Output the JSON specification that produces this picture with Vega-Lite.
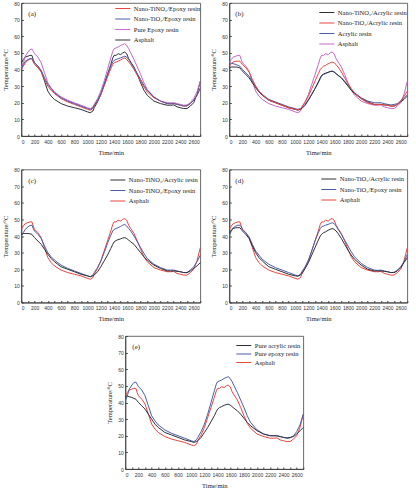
{
"$schema": "https://vega.github.io/schema/vega-lite/v6.json",
"padding": {"left": 2, "top": 0, "right": 0, "bottom": 0},
"spacing": 10.5,
"center": true,
"resolve": {"scale": {"color": "independent"}, "legend": {"color": "independent"}},
"config": {
 "font": "Liberation Serif",
 "view": {"stroke": "#444", "strokeWidth": 0.8},
 "axis": {"labelFont": "Liberation Sans", "labelFontSize": 5, "titleFont": "Liberation Serif", "titleFontSize": 6.5, "titleFontWeight": "normal", "grid": false, "domainColor": "#444", "tickColor": "#444", "tickSize": -2, "labelColor": "#333", "titleColor": "#222", "labelPadding": 5, "labelOverlap": false, "format": "d"},
 "axisX": {"titlePadding": 5},
 "axisY": {"titlePadding": 5, "labelPadding": 4},
 "legend": {"labelFont": "Liberation Serif", "labelFontSize": 6.5, "labelColor": "#222", "symbolType": "M-2,0H2", "symbolSize": 56, "symbolStrokeWidth": 1.5, "labelOffset": 6.5, "padding": 0, "rowPadding": 2.5},
 "title": {"font": "Liberation Serif", "fontSize": 7, "fontWeight": "normal", "anchor": "start", "frame": "group", "offset": -16, "dx": 7, "baseline": "middle", "color": "#222"},
 "line": {"strokeWidth": 1}
},
"datasets": {"temps": [
{"series":"Asphalt","time":0,"temp":44},{"series":"Asphalt","time":30,"temp":46},{"series":"Asphalt","time":60,"temp":47.5},{"series":"Asphalt","time":100,"temp":48},{"series":"Asphalt","time":130,"temp":48.5},{"series":"Asphalt","time":160,"temp":48.5},{"series":"Asphalt","time":180,"temp":46},{"series":"Asphalt","time":200,"temp":44},{"series":"Asphalt","time":250,"temp":42},{"series":"Asphalt","time":300,"temp":39},{"series":"Asphalt","time":350,"temp":33},{"series":"Asphalt","time":400,"temp":27},{"series":"Asphalt","time":450,"temp":24},{"series":"Asphalt","time":500,"temp":22},{"series":"Asphalt","time":600,"temp":19.5},{"series":"Asphalt","time":700,"temp":18},{"series":"Asphalt","time":800,"temp":17},{"series":"Asphalt","time":900,"temp":16},{"series":"Asphalt","time":1000,"temp":14.5},{"series":"Asphalt","time":1040,"temp":14},{"series":"Asphalt","time":1080,"temp":15},{"series":"Asphalt","time":1100,"temp":17},{"series":"Asphalt","time":1150,"temp":20.5},{"series":"Asphalt","time":1200,"temp":25},{"series":"Asphalt","time":1250,"temp":31},{"series":"Asphalt","time":1300,"temp":37},{"series":"Asphalt","time":1350,"temp":43},{"series":"Asphalt","time":1380,"temp":47},{"series":"Asphalt","time":1400,"temp":48.5},{"series":"Asphalt","time":1430,"temp":48.5},{"series":"Asphalt","time":1460,"temp":49.5},{"series":"Asphalt","time":1500,"temp":49},{"series":"Asphalt","time":1530,"temp":50},{"series":"Asphalt","time":1560,"temp":50.5},{"series":"Asphalt","time":1590,"temp":49.5},{"series":"Asphalt","time":1620,"temp":46.5},{"series":"Asphalt","time":1650,"temp":44.5},{"series":"Asphalt","time":1700,"temp":41.5},{"series":"Asphalt","time":1750,"temp":37},{"series":"Asphalt","time":1800,"temp":32},{"series":"Asphalt","time":1850,"temp":27.5},{"series":"Asphalt","time":1900,"temp":24.5},{"series":"Asphalt","time":2000,"temp":21},{"series":"Asphalt","time":2100,"temp":19.5},{"series":"Asphalt","time":2200,"temp":18.5},{"series":"Asphalt","time":2250,"temp":18.5},{"series":"Asphalt","time":2300,"temp":18.7},{"series":"Asphalt","time":2350,"temp":17.5},{"series":"Asphalt","time":2400,"temp":17},{"series":"Asphalt","time":2450,"temp":16.5},{"series":"Asphalt","time":2500,"temp":16.5},{"series":"Asphalt","time":2550,"temp":18},{"series":"Asphalt","time":2600,"temp":20},{"series":"Asphalt","time":2650,"temp":25},{"series":"Asphalt","time":2700,"temp":33},
{"series":"Pure epoxy resin","time":0,"temp":41},{"series":"Pure epoxy resin","time":30,"temp":44},{"series":"Pure epoxy resin","time":60,"temp":48},{"series":"Pure epoxy resin","time":100,"temp":50.5},{"series":"Pure epoxy resin","time":130,"temp":52},{"series":"Pure epoxy resin","time":160,"temp":52.3},{"series":"Pure epoxy resin","time":180,"temp":51},{"series":"Pure epoxy resin","time":200,"temp":49.5},{"series":"Pure epoxy resin","time":250,"temp":47.5},{"series":"Pure epoxy resin","time":300,"temp":44},{"series":"Pure epoxy resin","time":350,"temp":38},{"series":"Pure epoxy resin","time":400,"temp":32},{"series":"Pure epoxy resin","time":450,"temp":29},{"series":"Pure epoxy resin","time":500,"temp":26.5},{"series":"Pure epoxy resin","time":600,"temp":23.5},{"series":"Pure epoxy resin","time":700,"temp":21.5},{"series":"Pure epoxy resin","time":800,"temp":20},{"series":"Pure epoxy resin","time":900,"temp":18.5},{"series":"Pure epoxy resin","time":1000,"temp":17},{"series":"Pure epoxy resin","time":1040,"temp":16.5},{"series":"Pure epoxy resin","time":1080,"temp":17.5},{"series":"Pure epoxy resin","time":1100,"temp":19},{"series":"Pure epoxy resin","time":1150,"temp":22.5},{"series":"Pure epoxy resin","time":1200,"temp":27},{"series":"Pure epoxy resin","time":1250,"temp":33},{"series":"Pure epoxy resin","time":1300,"temp":40},{"series":"Pure epoxy resin","time":1350,"temp":47},{"series":"Pure epoxy resin","time":1380,"temp":51},{"series":"Pure epoxy resin","time":1400,"temp":52.5},{"series":"Pure epoxy resin","time":1430,"temp":53},{"series":"Pure epoxy resin","time":1460,"temp":53.5},{"series":"Pure epoxy resin","time":1500,"temp":54.5},{"series":"Pure epoxy resin","time":1530,"temp":55},{"series":"Pure epoxy resin","time":1560,"temp":55.5},{"series":"Pure epoxy resin","time":1590,"temp":54.5},{"series":"Pure epoxy resin","time":1620,"temp":52.5},{"series":"Pure epoxy resin","time":1650,"temp":50},{"series":"Pure epoxy resin","time":1700,"temp":46},{"series":"Pure epoxy resin","time":1750,"temp":41.5},{"series":"Pure epoxy resin","time":1800,"temp":37},{"series":"Pure epoxy resin","time":1850,"temp":32},{"series":"Pure epoxy resin","time":1900,"temp":28},{"series":"Pure epoxy resin","time":2000,"temp":23.5},{"series":"Pure epoxy resin","time":2100,"temp":21},{"series":"Pure epoxy resin","time":2200,"temp":20},{"series":"Pure epoxy resin","time":2250,"temp":20},{"series":"Pure epoxy resin","time":2300,"temp":20},{"series":"Pure epoxy resin","time":2350,"temp":19.5},{"series":"Pure epoxy resin","time":2400,"temp":19},{"series":"Pure epoxy resin","time":2450,"temp":18.5},{"series":"Pure epoxy resin","time":2500,"temp":18.7},{"series":"Pure epoxy resin","time":2550,"temp":20},{"series":"Pure epoxy resin","time":2600,"temp":22.5},{"series":"Pure epoxy resin","time":2650,"temp":26.5},{"series":"Pure epoxy resin","time":2700,"temp":33},
{"series":"Pure acrylic resin","time":0,"temp":44},{"series":"Pure acrylic resin","time":30,"temp":43.8},{"series":"Pure acrylic resin","time":60,"temp":43.5},{"series":"Pure acrylic resin","time":100,"temp":43},{"series":"Pure acrylic resin","time":130,"temp":42.5},{"series":"Pure acrylic resin","time":160,"temp":42},{"series":"Pure acrylic resin","time":180,"temp":41},{"series":"Pure acrylic resin","time":200,"temp":40},{"series":"Pure acrylic resin","time":250,"temp":38},{"series":"Pure acrylic resin","time":300,"temp":36},{"series":"Pure acrylic resin","time":350,"temp":33},{"series":"Pure acrylic resin","time":400,"temp":30},{"series":"Pure acrylic resin","time":450,"temp":27},{"series":"Pure acrylic resin","time":500,"temp":25},{"series":"Pure acrylic resin","time":600,"temp":22},{"series":"Pure acrylic resin","time":700,"temp":20.5},{"series":"Pure acrylic resin","time":800,"temp":19},{"series":"Pure acrylic resin","time":900,"temp":17.5},{"series":"Pure acrylic resin","time":1000,"temp":16.5},{"series":"Pure acrylic resin","time":1040,"temp":16},{"series":"Pure acrylic resin","time":1080,"temp":16.5},{"series":"Pure acrylic resin","time":1100,"temp":17},{"series":"Pure acrylic resin","time":1150,"temp":19},{"series":"Pure acrylic resin","time":1200,"temp":22},{"series":"Pure acrylic resin","time":1250,"temp":25},{"series":"Pure acrylic resin","time":1300,"temp":28.5},{"series":"Pure acrylic resin","time":1350,"temp":32},{"series":"Pure acrylic resin","time":1380,"temp":34.5},{"series":"Pure acrylic resin","time":1400,"temp":36},{"series":"Pure acrylic resin","time":1430,"temp":37},{"series":"Pure acrylic resin","time":1460,"temp":37.5},{"series":"Pure acrylic resin","time":1500,"temp":38.3},{"series":"Pure acrylic resin","time":1530,"temp":38.7},{"series":"Pure acrylic resin","time":1560,"temp":39},{"series":"Pure acrylic resin","time":1590,"temp":38.5},{"series":"Pure acrylic resin","time":1620,"temp":37.5},{"series":"Pure acrylic resin","time":1650,"temp":36.5},{"series":"Pure acrylic resin","time":1700,"temp":35},{"series":"Pure acrylic resin","time":1750,"temp":33},{"series":"Pure acrylic resin","time":1800,"temp":30.5},{"series":"Pure acrylic resin","time":1850,"temp":28},{"series":"Pure acrylic resin","time":1900,"temp":26},{"series":"Pure acrylic resin","time":2000,"temp":23},{"series":"Pure acrylic resin","time":2100,"temp":21},{"series":"Pure acrylic resin","time":2200,"temp":20},{"series":"Pure acrylic resin","time":2250,"temp":20},{"series":"Pure acrylic resin","time":2300,"temp":20},{"series":"Pure acrylic resin","time":2350,"temp":19.5},{"series":"Pure acrylic resin","time":2400,"temp":19},{"series":"Pure acrylic resin","time":2450,"temp":18.7},{"series":"Pure acrylic resin","time":2500,"temp":19},{"series":"Pure acrylic resin","time":2550,"temp":19.5},{"series":"Pure acrylic resin","time":2600,"temp":21},{"series":"Pure acrylic resin","time":2650,"temp":23},{"series":"Pure acrylic resin","time":2700,"temp":25},
{"series":"Nano-TiNO₂/Epoxy resin","time":0,"temp":40},{"series":"Nano-TiNO₂/Epoxy resin","time":30,"temp":42},{"series":"Nano-TiNO₂/Epoxy resin","time":60,"temp":44},{"series":"Nano-TiNO₂/Epoxy resin","time":100,"temp":45.5},{"series":"Nano-TiNO₂/Epoxy resin","time":130,"temp":46.3},{"series":"Nano-TiNO₂/Epoxy resin","time":160,"temp":46.5},{"series":"Nano-TiNO₂/Epoxy resin","time":180,"temp":44.5},{"series":"Nano-TiNO₂/Epoxy resin","time":200,"temp":43},{"series":"Nano-TiNO₂/Epoxy resin","time":250,"temp":41},{"series":"Nano-TiNO₂/Epoxy resin","time":300,"temp":38.5},{"series":"Nano-TiNO₂/Epoxy resin","time":350,"temp":34},{"series":"Nano-TiNO₂/Epoxy resin","time":400,"temp":30},{"series":"Nano-TiNO₂/Epoxy resin","time":450,"temp":27.5},{"series":"Nano-TiNO₂/Epoxy resin","time":500,"temp":25.5},{"series":"Nano-TiNO₂/Epoxy resin","time":600,"temp":22.5},{"series":"Nano-TiNO₂/Epoxy resin","time":700,"temp":20.5},{"series":"Nano-TiNO₂/Epoxy resin","time":800,"temp":19},{"series":"Nano-TiNO₂/Epoxy resin","time":900,"temp":17.5},{"series":"Nano-TiNO₂/Epoxy resin","time":1000,"temp":16},{"series":"Nano-TiNO₂/Epoxy resin","time":1040,"temp":15.5},{"series":"Nano-TiNO₂/Epoxy resin","time":1080,"temp":16.5},{"series":"Nano-TiNO₂/Epoxy resin","time":1100,"temp":18},{"series":"Nano-TiNO₂/Epoxy resin","time":1150,"temp":21},{"series":"Nano-TiNO₂/Epoxy resin","time":1200,"temp":25},{"series":"Nano-TiNO₂/Epoxy resin","time":1250,"temp":30},{"series":"Nano-TiNO₂/Epoxy resin","time":1300,"temp":35.5},{"series":"Nano-TiNO₂/Epoxy resin","time":1350,"temp":40.5},{"series":"Nano-TiNO₂/Epoxy resin","time":1380,"temp":43},{"series":"Nano-TiNO₂/Epoxy resin","time":1400,"temp":44},{"series":"Nano-TiNO₂/Epoxy resin","time":1430,"temp":44.5},{"series":"Nano-TiNO₂/Epoxy resin","time":1460,"temp":45},{"series":"Nano-TiNO₂/Epoxy resin","time":1500,"temp":45.8},{"series":"Nano-TiNO₂/Epoxy resin","time":1530,"temp":46.5},{"series":"Nano-TiNO₂/Epoxy resin","time":1560,"temp":47},{"series":"Nano-TiNO₂/Epoxy resin","time":1590,"temp":46},{"series":"Nano-TiNO₂/Epoxy resin","time":1620,"temp":44.5},{"series":"Nano-TiNO₂/Epoxy resin","time":1650,"temp":43},{"series":"Nano-TiNO₂/Epoxy resin","time":1700,"temp":40},{"series":"Nano-TiNO₂/Epoxy resin","time":1750,"temp":36.5},{"series":"Nano-TiNO₂/Epoxy resin","time":1800,"temp":33},{"series":"Nano-TiNO₂/Epoxy resin","time":1850,"temp":29.5},{"series":"Nano-TiNO₂/Epoxy resin","time":1900,"temp":26.5},{"series":"Nano-TiNO₂/Epoxy resin","time":2000,"temp":23},{"series":"Nano-TiNO₂/Epoxy resin","time":2100,"temp":21},{"series":"Nano-TiNO₂/Epoxy resin","time":2200,"temp":19.5},{"series":"Nano-TiNO₂/Epoxy resin","time":2250,"temp":19.5},{"series":"Nano-TiNO₂/Epoxy resin","time":2300,"temp":19.5},{"series":"Nano-TiNO₂/Epoxy resin","time":2350,"temp":19},{"series":"Nano-TiNO₂/Epoxy resin","time":2400,"temp":18.5},{"series":"Nano-TiNO₂/Epoxy resin","time":2450,"temp":18},{"series":"Nano-TiNO₂/Epoxy resin","time":2500,"temp":18},{"series":"Nano-TiNO₂/Epoxy resin","time":2550,"temp":19.5},{"series":"Nano-TiNO₂/Epoxy resin","time":2600,"temp":21.5},{"series":"Nano-TiNO₂/Epoxy resin","time":2650,"temp":24.5},{"series":"Nano-TiNO₂/Epoxy resin","time":2700,"temp":28.5},
{"series":"Nano-TiO₂/Epoxy resin","time":0,"temp":40},{"series":"Nano-TiO₂/Epoxy resin","time":30,"temp":43},{"series":"Nano-TiO₂/Epoxy resin","time":60,"temp":45},{"series":"Nano-TiO₂/Epoxy resin","time":100,"temp":46},{"series":"Nano-TiO₂/Epoxy resin","time":130,"temp":46.5},{"series":"Nano-TiO₂/Epoxy resin","time":160,"temp":46.5},{"series":"Nano-TiO₂/Epoxy resin","time":180,"temp":45.5},{"series":"Nano-TiO₂/Epoxy resin","time":200,"temp":44},{"series":"Nano-TiO₂/Epoxy resin","time":250,"temp":42},{"series":"Nano-TiO₂/Epoxy resin","time":300,"temp":39.5},{"series":"Nano-TiO₂/Epoxy resin","time":350,"temp":35},{"series":"Nano-TiO₂/Epoxy resin","time":400,"temp":31},{"series":"Nano-TiO₂/Epoxy resin","time":450,"temp":28.5},{"series":"Nano-TiO₂/Epoxy resin","time":500,"temp":26},{"series":"Nano-TiO₂/Epoxy resin","time":600,"temp":23},{"series":"Nano-TiO₂/Epoxy resin","time":700,"temp":21},{"series":"Nano-TiO₂/Epoxy resin","time":800,"temp":19.5},{"series":"Nano-TiO₂/Epoxy resin","time":900,"temp":18},{"series":"Nano-TiO₂/Epoxy resin","time":1000,"temp":16.5},{"series":"Nano-TiO₂/Epoxy resin","time":1040,"temp":16},{"series":"Nano-TiO₂/Epoxy resin","time":1080,"temp":17},{"series":"Nano-TiO₂/Epoxy resin","time":1100,"temp":18.5},{"series":"Nano-TiO₂/Epoxy resin","time":1150,"temp":21.5},{"series":"Nano-TiO₂/Epoxy resin","time":1200,"temp":25.5},{"series":"Nano-TiO₂/Epoxy resin","time":1250,"temp":31},{"series":"Nano-TiO₂/Epoxy resin","time":1300,"temp":37},{"series":"Nano-TiO₂/Epoxy resin","time":1350,"temp":42},{"series":"Nano-TiO₂/Epoxy resin","time":1380,"temp":44.5},{"series":"Nano-TiO₂/Epoxy resin","time":1400,"temp":45.5},{"series":"Nano-TiO₂/Epoxy resin","time":1430,"temp":46},{"series":"Nano-TiO₂/Epoxy resin","time":1460,"temp":46.5},{"series":"Nano-TiO₂/Epoxy resin","time":1500,"temp":47},{"series":"Nano-TiO₂/Epoxy resin","time":1530,"temp":47.5},{"series":"Nano-TiO₂/Epoxy resin","time":1560,"temp":48},{"series":"Nano-TiO₂/Epoxy resin","time":1590,"temp":47.5},{"series":"Nano-TiO₂/Epoxy resin","time":1620,"temp":46},{"series":"Nano-TiO₂/Epoxy resin","time":1650,"temp":44},{"series":"Nano-TiO₂/Epoxy resin","time":1700,"temp":41},{"series":"Nano-TiO₂/Epoxy resin","time":1750,"temp":37.5},{"series":"Nano-TiO₂/Epoxy resin","time":1800,"temp":34},{"series":"Nano-TiO₂/Epoxy resin","time":1850,"temp":30.5},{"series":"Nano-TiO₂/Epoxy resin","time":1900,"temp":27.5},{"series":"Nano-TiO₂/Epoxy resin","time":2000,"temp":23.5},{"series":"Nano-TiO₂/Epoxy resin","time":2100,"temp":21},{"series":"Nano-TiO₂/Epoxy resin","time":2200,"temp":19.5},{"series":"Nano-TiO₂/Epoxy resin","time":2250,"temp":19.3},{"series":"Nano-TiO₂/Epoxy resin","time":2300,"temp":19.5},{"series":"Nano-TiO₂/Epoxy resin","time":2350,"temp":19},{"series":"Nano-TiO₂/Epoxy resin","time":2400,"temp":18.5},{"series":"Nano-TiO₂/Epoxy resin","time":2450,"temp":18},{"series":"Nano-TiO₂/Epoxy resin","time":2500,"temp":18.2},{"series":"Nano-TiO₂/Epoxy resin","time":2550,"temp":19.5},{"series":"Nano-TiO₂/Epoxy resin","time":2600,"temp":21.5},{"series":"Nano-TiO₂/Epoxy resin","time":2650,"temp":24.5},{"series":"Nano-TiO₂/Epoxy resin","time":2700,"temp":29},
{"series":"Nano-TiNO₂/Acrylic resin","time":0,"temp":41},{"series":"Nano-TiNO₂/Acrylic resin","time":30,"temp":41.5},{"series":"Nano-TiNO₂/Acrylic resin","time":60,"temp":41.5},{"series":"Nano-TiNO₂/Acrylic resin","time":100,"temp":41.5},{"series":"Nano-TiNO₂/Acrylic resin","time":130,"temp":41.3},{"series":"Nano-TiNO₂/Acrylic resin","time":160,"temp":41},{"series":"Nano-TiNO₂/Acrylic resin","time":180,"temp":40},{"series":"Nano-TiNO₂/Acrylic resin","time":200,"temp":39},{"series":"Nano-TiNO₂/Acrylic resin","time":250,"temp":37},{"series":"Nano-TiNO₂/Acrylic resin","time":300,"temp":35},{"series":"Nano-TiNO₂/Acrylic resin","time":350,"temp":32},{"series":"Nano-TiNO₂/Acrylic resin","time":400,"temp":29},{"series":"Nano-TiNO₂/Acrylic resin","time":450,"temp":26.5},{"series":"Nano-TiNO₂/Acrylic resin","time":500,"temp":24.5},{"series":"Nano-TiNO₂/Acrylic resin","time":600,"temp":21.5},{"series":"Nano-TiNO₂/Acrylic resin","time":700,"temp":20},{"series":"Nano-TiNO₂/Acrylic resin","time":800,"temp":18.5},{"series":"Nano-TiNO₂/Acrylic resin","time":900,"temp":17},{"series":"Nano-TiNO₂/Acrylic resin","time":1000,"temp":16},{"series":"Nano-TiNO₂/Acrylic resin","time":1040,"temp":15.5},{"series":"Nano-TiNO₂/Acrylic resin","time":1080,"temp":16},{"series":"Nano-TiNO₂/Acrylic resin","time":1100,"temp":16.5},{"series":"Nano-TiNO₂/Acrylic resin","time":1150,"temp":18.5},{"series":"Nano-TiNO₂/Acrylic resin","time":1200,"temp":21.5},{"series":"Nano-TiNO₂/Acrylic resin","time":1250,"temp":25},{"series":"Nano-TiNO₂/Acrylic resin","time":1300,"temp":28.5},{"series":"Nano-TiNO₂/Acrylic resin","time":1350,"temp":32.5},{"series":"Nano-TiNO₂/Acrylic resin","time":1380,"temp":35},{"series":"Nano-TiNO₂/Acrylic resin","time":1400,"temp":36.5},{"series":"Nano-TiNO₂/Acrylic resin","time":1430,"temp":37.3},{"series":"Nano-TiNO₂/Acrylic resin","time":1460,"temp":37.8},{"series":"Nano-TiNO₂/Acrylic resin","time":1500,"temp":38.3},{"series":"Nano-TiNO₂/Acrylic resin","time":1530,"temp":38.8},{"series":"Nano-TiNO₂/Acrylic resin","time":1560,"temp":39},{"series":"Nano-TiNO₂/Acrylic resin","time":1590,"temp":38.5},{"series":"Nano-TiNO₂/Acrylic resin","time":1620,"temp":37.5},{"series":"Nano-TiNO₂/Acrylic resin","time":1650,"temp":36.5},{"series":"Nano-TiNO₂/Acrylic resin","time":1700,"temp":35},{"series":"Nano-TiNO₂/Acrylic resin","time":1750,"temp":32.5},{"series":"Nano-TiNO₂/Acrylic resin","time":1800,"temp":30},{"series":"Nano-TiNO₂/Acrylic resin","time":1850,"temp":27.5},{"series":"Nano-TiNO₂/Acrylic resin","time":1900,"temp":25.5},{"series":"Nano-TiNO₂/Acrylic resin","time":2000,"temp":22.5},{"series":"Nano-TiNO₂/Acrylic resin","time":2100,"temp":20.5},{"series":"Nano-TiNO₂/Acrylic resin","time":2200,"temp":19},{"series":"Nano-TiNO₂/Acrylic resin","time":2250,"temp":19},{"series":"Nano-TiNO₂/Acrylic resin","time":2300,"temp":19},{"series":"Nano-TiNO₂/Acrylic resin","time":2350,"temp":18.7},{"series":"Nano-TiNO₂/Acrylic resin","time":2400,"temp":18.5},{"series":"Nano-TiNO₂/Acrylic resin","time":2450,"temp":18},{"series":"Nano-TiNO₂/Acrylic resin","time":2500,"temp":18},{"series":"Nano-TiNO₂/Acrylic resin","time":2550,"temp":19},{"series":"Nano-TiNO₂/Acrylic resin","time":2600,"temp":20.5},{"series":"Nano-TiNO₂/Acrylic resin","time":2650,"temp":22},{"series":"Nano-TiNO₂/Acrylic resin","time":2700,"temp":24},
{"series":"Nano-TiO₂/Acrylic resin","time":0,"temp":42},{"series":"Nano-TiO₂/Acrylic resin","time":30,"temp":43.5},{"series":"Nano-TiO₂/Acrylic resin","time":60,"temp":44.5},{"series":"Nano-TiO₂/Acrylic resin","time":100,"temp":45},{"series":"Nano-TiO₂/Acrylic resin","time":130,"temp":45},{"series":"Nano-TiO₂/Acrylic resin","time":160,"temp":45},{"series":"Nano-TiO₂/Acrylic resin","time":180,"temp":44},{"series":"Nano-TiO₂/Acrylic resin","time":200,"temp":43},{"series":"Nano-TiO₂/Acrylic resin","time":250,"temp":41},{"series":"Nano-TiO₂/Acrylic resin","time":300,"temp":38.5},{"series":"Nano-TiO₂/Acrylic resin","time":350,"temp":34},{"series":"Nano-TiO₂/Acrylic resin","time":400,"temp":30},{"series":"Nano-TiO₂/Acrylic resin","time":450,"temp":27},{"series":"Nano-TiO₂/Acrylic resin","time":500,"temp":25},{"series":"Nano-TiO₂/Acrylic resin","time":600,"temp":21.5},{"series":"Nano-TiO₂/Acrylic resin","time":700,"temp":20},{"series":"Nano-TiO₂/Acrylic resin","time":800,"temp":18.5},{"series":"Nano-TiO₂/Acrylic resin","time":900,"temp":17},{"series":"Nano-TiO₂/Acrylic resin","time":1000,"temp":16},{"series":"Nano-TiO₂/Acrylic resin","time":1040,"temp":15.8},{"series":"Nano-TiO₂/Acrylic resin","time":1080,"temp":16.5},{"series":"Nano-TiO₂/Acrylic resin","time":1100,"temp":17.5},{"series":"Nano-TiO₂/Acrylic resin","time":1150,"temp":20.5},{"series":"Nano-TiO₂/Acrylic resin","time":1200,"temp":24},{"series":"Nano-TiO₂/Acrylic resin","time":1250,"temp":28.5},{"series":"Nano-TiO₂/Acrylic resin","time":1300,"temp":33},{"series":"Nano-TiO₂/Acrylic resin","time":1350,"temp":37.5},{"series":"Nano-TiO₂/Acrylic resin","time":1380,"temp":40},{"series":"Nano-TiO₂/Acrylic resin","time":1400,"temp":41},{"series":"Nano-TiO₂/Acrylic resin","time":1430,"temp":42},{"series":"Nano-TiO₂/Acrylic resin","time":1460,"temp":42.5},{"series":"Nano-TiO₂/Acrylic resin","time":1500,"temp":43.5},{"series":"Nano-TiO₂/Acrylic resin","time":1530,"temp":44},{"series":"Nano-TiO₂/Acrylic resin","time":1560,"temp":44.5},{"series":"Nano-TiO₂/Acrylic resin","time":1590,"temp":44},{"series":"Nano-TiO₂/Acrylic resin","time":1620,"temp":43},{"series":"Nano-TiO₂/Acrylic resin","time":1650,"temp":41.5},{"series":"Nano-TiO₂/Acrylic resin","time":1700,"temp":38.5},{"series":"Nano-TiO₂/Acrylic resin","time":1750,"temp":35},{"series":"Nano-TiO₂/Acrylic resin","time":1800,"temp":31.5},{"series":"Nano-TiO₂/Acrylic resin","time":1850,"temp":28.5},{"series":"Nano-TiO₂/Acrylic resin","time":1900,"temp":26},{"series":"Nano-TiO₂/Acrylic resin","time":2000,"temp":22.5},{"series":"Nano-TiO₂/Acrylic resin","time":2100,"temp":20},{"series":"Nano-TiO₂/Acrylic resin","time":2200,"temp":19},{"series":"Nano-TiO₂/Acrylic resin","time":2250,"temp":19},{"series":"Nano-TiO₂/Acrylic resin","time":2300,"temp":19},{"series":"Nano-TiO₂/Acrylic resin","time":2350,"temp":18.7},{"series":"Nano-TiO₂/Acrylic resin","time":2400,"temp":18.5},{"series":"Nano-TiO₂/Acrylic resin","time":2450,"temp":18},{"series":"Nano-TiO₂/Acrylic resin","time":2500,"temp":18},{"series":"Nano-TiO₂/Acrylic resin","time":2550,"temp":19},{"series":"Nano-TiO₂/Acrylic resin","time":2600,"temp":21},{"series":"Nano-TiO₂/Acrylic resin","time":2650,"temp":24},{"series":"Nano-TiO₂/Acrylic resin","time":2700,"temp":27}
]},
"vconcat": [
 {"hconcat": [
  {"width": 179, "height": 133, "title": {"text": "(a)"},
   "data": {"name": "temps"},
   "transform": [{"filter": {"field": "series", "oneOf": ["Nano-TiNO₂/Epoxy resin", "Nano-TiO₂/Epoxy resin", "Pure epoxy resin", "Asphalt"]}}],
   "mark": {"type": "line"},
   "encoding": {
    "x": {"field": "time", "type": "quantitative", "scale": {"domain": [0, 2700], "nice": false}, "axis": {"title": "Time/min", "values": [0,100,200,300,400,500,600,700,800,900,1000,1100,1200,1300,1400,1500,1600,1700,1800,1900,2000,2100,2200,2300,2400,2500,2600,2700], "labelExpr": "datum.value % 200 == 0 ? datum.label : ''"}},
    "y": {"field": "temp", "type": "quantitative", "scale": {"domain": [0, 80]}, "axis": {"title": "Temperature/°C", "values": [0,10,20,30,40,50,60,70,80]}},
    "color": {"field": "series", "type": "nominal", "scale": {"domain": ["Nano-TiNO₂/Epoxy resin", "Nano-TiO₂/Epoxy resin", "Pure epoxy resin", "Asphalt"], "range": ["#e8453f", "#4b5cab", "#c567c9", "#2f2f38"]},
     "legend": {"title": null, "orient": "none", "legendX": 97, "legendY": 1, "labelExpr": "datum.label == 'Pure epoxy resin' ? 'Pure Epoxy resin' : datum.label"}}
   }},
  {"width": 178, "height": 133, "title": {"text": "(b)", "dx": 6},
   "data": {"name": "temps"},
   "transform": [{"filter": {"field": "series", "oneOf": ["Nano-TiNO₂/Acrylic resin", "Nano-TiO₂/Acrylic resin", "Pure acrylic resin", "Asphalt"]}}],
   "mark": {"type": "line"},
   "encoding": {
    "x": {"field": "time", "type": "quantitative", "scale": {"domain": [0, 2700], "nice": false}, "axis": {"title": "Time/min", "values": [0,100,200,300,400,500,600,700,800,900,1000,1100,1200,1300,1400,1500,1600,1700,1800,1900,2000,2100,2200,2300,2400,2500,2600,2700], "labelExpr": "datum.value % 200 == 0 ? datum.label : ''"}},
    "y": {"field": "temp", "type": "quantitative", "scale": {"domain": [0, 80]}, "axis": {"title": "Temperature/°C", "values": [0,10,20,30,40,50,60,70,80]}},
    "color": {"field": "series", "type": "nominal", "scale": {"domain": ["Nano-TiNO₂/Acrylic resin", "Nano-TiO₂/Acrylic resin", "Pure acrylic resin", "Asphalt"], "range": ["#2f2f38", "#e8453f", "#4b5cab", "#c567c9"]},
     "legend": {"title": null, "orient": "none", "legendX": 93, "legendY": 5, "labelExpr": "datum.label == 'Pure acrylic resin' ? 'Acrylic resin' : datum.label"}}
   }}
 ], "spacing": 7, "resolve": {"scale": {"color": "independent"}, "legend": {"color": "independent"}}},
 {"hconcat": [
  {"width": 179, "height": 133, "title": {"text": "(c)"},
   "data": {"name": "temps"},
   "transform": [{"filter": {"field": "series", "oneOf": ["Nano-TiNO₂/Acrylic resin", "Nano-TiNO₂/Epoxy resin", "Asphalt"]}}],
   "mark": {"type": "line"},
   "encoding": {
    "x": {"field": "time", "type": "quantitative", "scale": {"domain": [0, 2700], "nice": false}, "axis": {"title": "Time/min", "values": [0,100,200,300,400,500,600,700,800,900,1000,1100,1200,1300,1400,1500,1600,1700,1800,1900,2000,2100,2200,2300,2400,2500,2600,2700], "labelExpr": "datum.value % 200 == 0 ? datum.label : ''"}},
    "y": {"field": "temp", "type": "quantitative", "scale": {"domain": [0, 80]}, "axis": {"title": "Temperature/°C", "values": [0,10,20,30,40,50,60,70,80]}},
    "color": {"field": "series", "type": "nominal", "scale": {"domain": ["Nano-TiNO₂/Acrylic resin", "Nano-TiNO₂/Epoxy resin", "Asphalt"], "range": ["#2f2f38", "#4b5cab", "#e8453f"]},
     "legend": {"title": null, "orient": "none", "legendX": 92, "legendY": 6}}
   }},
  {"width": 178, "height": 133, "title": {"text": "(d)", "dx": 6},
   "data": {"name": "temps"},
   "transform": [{"filter": {"field": "series", "oneOf": ["Nano-TiO₂/Acrylic resin", "Nano-TiO₂/Epoxy resin", "Asphalt"]}}],
   "mark": {"type": "line"},
   "encoding": {
    "x": {"field": "time", "type": "quantitative", "scale": {"domain": [0, 2700], "nice": false}, "axis": {"title": "Time/min", "values": [0,100,200,300,400,500,600,700,800,900,1000,1100,1200,1300,1400,1500,1600,1700,1800,1900,2000,2100,2200,2300,2400,2500,2600,2700], "labelExpr": "datum.value % 200 == 0 ? datum.label : ''"}},
    "y": {"field": "temp", "type": "quantitative", "scale": {"domain": [0, 80]}, "axis": {"title": "Temperature/°C", "values": [0,10,20,30,40,50,60,70,80]}},
    "color": {"field": "series", "type": "nominal", "scale": {"domain": ["Nano-TiO₂/Acrylic resin", "Nano-TiO₂/Epoxy resin", "Asphalt"], "range": ["#2f2f38", "#4b5cab", "#e8453f"]},
     "legend": {"title": null, "orient": "none", "legendX": 95, "legendY": 5}}
   }}
 ], "spacing": 7, "resolve": {"scale": {"color": "independent"}, "legend": {"color": "independent"}}},
 {"width": 178, "height": 133, "title": {"text": "(e)"},
  "data": {"name": "temps"},
  "transform": [{"filter": {"field": "series", "oneOf": ["Pure acrylic resin", "Pure epoxy resin", "Asphalt"]}}],
  "mark": {"type": "line"},
  "encoding": {
   "x": {"field": "time", "type": "quantitative", "scale": {"domain": [0, 2700], "nice": false}, "axis": {"title": "Time/min", "values": [0,100,200,300,400,500,600,700,800,900,1000,1100,1200,1300,1400,1500,1600,1700,1800,1900,2000,2100,2200,2300,2400,2500,2600,2700], "labelExpr": "datum.value % 200 == 0 ? datum.label : ''"}},
   "y": {"field": "temp", "type": "quantitative", "scale": {"domain": [0, 80]}, "axis": {"title": "Temperature/°C", "values": [0,10,20,30,40,50,60,70,80]}},
   "color": {"field": "series", "type": "nominal", "scale": {"domain": ["Pure acrylic resin", "Pure epoxy resin", "Asphalt"], "range": ["#2f2f38", "#4b5cab", "#e8453f"]},
    "legend": {"title": null, "orient": "none", "legendX": 114, "legendY": 5, "rowPadding": 0.5}}
  }}
]
}
